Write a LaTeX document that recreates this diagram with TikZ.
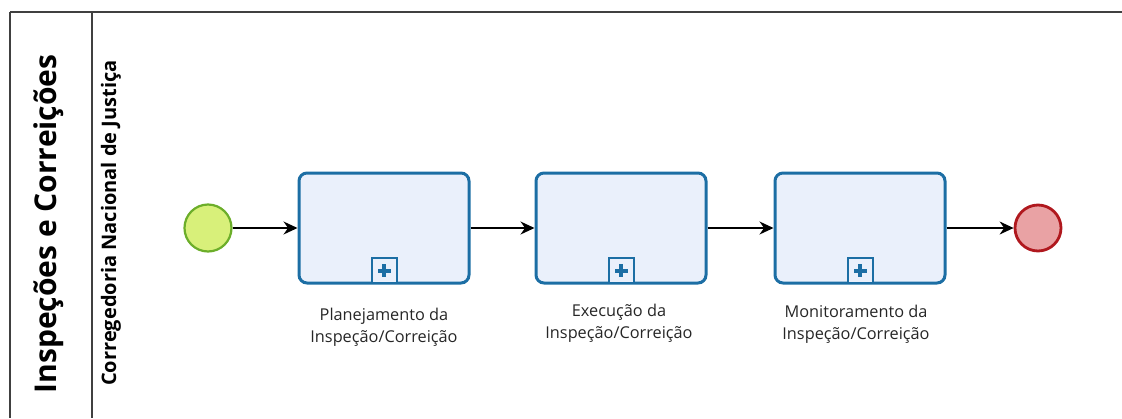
\documentclass[tikz,border=0pt]{standalone}
\usepackage{fontspec}
\setmainfont{Open Sans}
\usetikzlibrary{arrows.meta,positioning,calc}
\definecolor{taskfill}{HTML}{EAF0FB}
\definecolor{taskdraw}{HTML}{1C6EA4}
\definecolor{startfill}{HTML}{D8F07A}
\definecolor{startdraw}{HTML}{6CAE2A}
\definecolor{endfill}{HTML}{E9A2A4}
\definecolor{enddraw}{HTML}{B0181E}
\definecolor{pooldraw}{HTML}{404040}
\tikzset{
  taskbox/.style={draw=taskdraw,fill=taskfill,line width=3pt,rounded corners=8pt,minimum width=170pt,minimum height=110pt,inner sep=0pt},
  startev/.style={circle,draw=startdraw,fill=startfill,line width=2.2pt,minimum size=47pt,inner sep=0pt},
  endev/.style={circle,draw=enddraw,fill=endfill,line width=2.8pt,minimum size=46pt,inner sep=0pt},
  flow/.style={line width=1.4pt,-{Stealth[length=14pt,width=13pt]}},
  tasklabel/.style={font=\fontsize{16.3}{22}\selectfont,align=center,text=black!85},
  poolline/.style={draw=pooldraw,line width=1.5pt},
  marker/.style={draw=taskdraw,fill=taskfill,line width=2pt,minimum size=25pt,inner sep=0pt}
}
\newcommand{\plusmark}[1]{%
  \fill[taskdraw] ($(#1)+(-6.5,-2)$) rectangle ($(#1)+(6.5,2)$);
  \fill[taskdraw] ($(#1)+(-2,-6.5)$) rectangle ($(#1)+(2,6.5)$);}
\begin{document}
\begin{tikzpicture}[x=1pt,y=-1pt]
\useasboundingbox (0,0) rectangle (1122,418);
% pool
\draw[poolline] (10,12) -- (1122,12);
\draw[poolline] (10,12) -- (10,418);
\draw[poolline] (92,12) -- (92,418);
\node[rotate=90,font=\fontsize{30}{34}\bfseries\selectfont] (pool) at (49,224) {Inspeções e Correições};
\node[rotate=90,font=\fontsize{20}{23}\bfseries\selectfont] (lane) at (111,223) {Corregedoria Nacional de Justiça};
% events
\node[startev] (start) at (208,228) {};
\node[endev] (end) at (1038,228) {};
% tasks
\node[taskbox] (t1) at (384,228) {};
\node[taskbox] (t2) at (621,228) {};
\node[taskbox] (t3) at (860,228) {};
\foreach \t in {t1,t2,t3}{
  \node[marker,anchor=south] (\t m) at ($(\t.south)+(0,-0.5)$) {};
  \plusmark{\t m}
}
\node[tasklabel] (l1) at (384,327) {Planejamento da\\Inspeção/Correição};
\node[tasklabel] (l2) at (619,323) {Execução da\\Inspeção/Correição};
\node[tasklabel] (l3) at (856,324) {Monitoramento da\\Inspeção/Correição};
% flows
\draw[flow] (start) -- (t1);
\draw[flow] (t1) -- (t2);
\draw[flow] (t2) -- (t3);
\draw[flow] (t3) -- (end);
\end{tikzpicture}
\end{document}
